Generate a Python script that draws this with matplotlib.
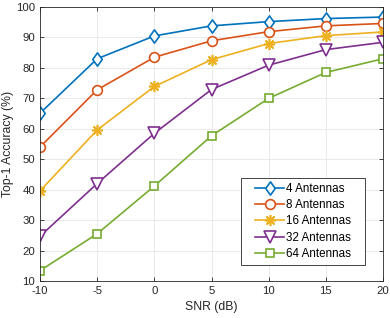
import numpy as np
import matplotlib.pyplot as plt
from matplotlib.patches import Rectangle
from matplotlib.path import Path

plt.rcParams['font.family'] = ['Liberation Sans', 'DejaVu Sans']
plt.rcParams['axes.unicode_minus'] = False

# dados
snr = [-10, -5, 0, 5, 10, 15, 20]
acc_4 = [65.1, 83.0, 90.5, 93.8, 95.2, 96.2, 96.7]
acc_8 = [54.0, 72.8, 83.5, 88.9, 91.9, 93.8, 94.6]
acc_16 = [39.6, 59.6, 73.9, 82.7, 88.0, 90.6, 91.8]
acc_32 = [24.7, 42.0, 58.5, 72.9, 80.9, 86.0, 88.4]
acc_64 = [13.4, 25.5, 41.2, 57.7, 70.0, 78.5, 83.0]
labels = ['4 Antennas', '8 Antennas', '16 Antennas', '32 Antennas', '64 Antennas']

# losango no estilo do MATLAB (um pouco mais alto que largo)
losango = Path([(0, 1), (0.72, 0), (0, -1), (-0.72, 0), (0, 1)],
               [Path.MOVETO, Path.LINETO, Path.LINETO, Path.LINETO, Path.CLOSEPOLY])

cores = ['#0072BD', '#D95319', '#EDB120', '#7E2F8E', '#77AC30']
marcadores = [losango, 'o', (8, 2, 0), 'v', 's']
tamanhos = [9.5, 7, 8, 8, 6]

fig = plt.figure(figsize=(3.9, 3.18), dpi=100)
ax = fig.add_axes([40 / 390, 37 / 318, 343 / 390, 274 / 318])

series = [acc_4, acc_8, acc_16, acc_32, acc_64]
for y, lab, c, m, ms in zip(series, labels, cores, marcadores, tamanhos):
    ax.plot(snr, y, color=c, marker=m, markersize=ms, markerfacecolor='white',
            markeredgecolor=c, markeredgewidth=1.2, linewidth=1.2, label=lab)

ax.set_xlim(-10, 20)
ax.set_ylim(10, 100)
ax.set_xticks(snr)
ax.set_yticks(np.arange(10, 101, 10))
ax.tick_params(direction='in', top=True, right=True, labelsize=8.2, colors='#262626', length=3, width=0.6)
ax.grid(True, color='#e6e6e6', linewidth=0.6)
ax.set_axisbelow(True)
for s in ax.spines.values():
    s.set_color('#262626')
    s.set_linewidth(0.6)

ax.set_xlabel('SNR (dB)', fontsize=8.8, color='#262626', labelpad=4)
ax.set_ylabel('Top-1 Accuracy (%)', fontsize=8.8, color='#262626', labelpad=1.5)

# legenda sem moldura; a moldura vai depois, mais larga como no MATLAB
leg = ax.legend(loc='lower right', bbox_to_anchor=(0.921, 0.058), fontsize=8.4, frameon=False,
                borderpad=0.45, labelspacing=0.36, handlelength=2.5, handletextpad=0.12,
                borderaxespad=0)
leg.set_zorder(6)

fig.canvas.draw()
bb = leg.get_window_extent().transformed(ax.transAxes.inverted())
dx = 9 / 343
moldura = Rectangle((bb.x0 - dx, bb.y0), bb.width + 2 * dx, bb.height, transform=ax.transAxes,
                    facecolor='white', edgecolor='#262626', linewidth=0.6, zorder=5.5)
ax.add_patch(moldura)

fig.savefig('out.png', dpi=100)
